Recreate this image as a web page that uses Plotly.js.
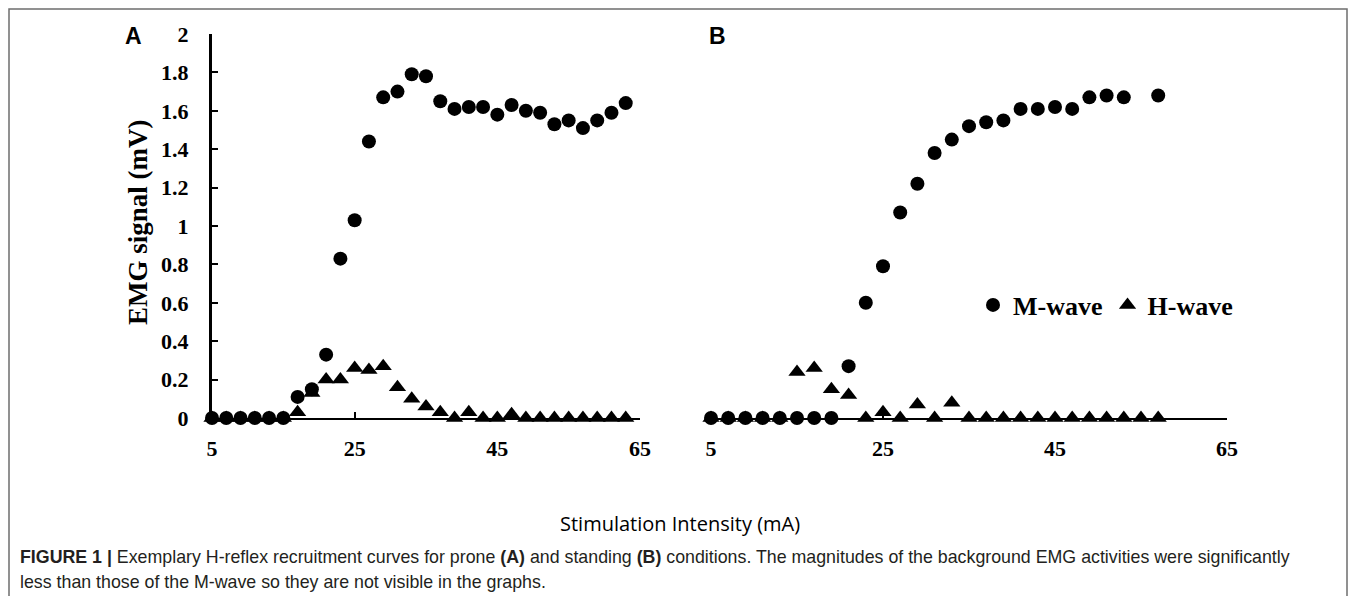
<!DOCTYPE html>
<html>
<head>
<meta charset="utf-8">
<script src="https://cdn.plot.ly/plotly-3.0.1.min.js"></script>
<style>html,body{margin:0;padding:0;background:#fff;}#chart{width:1355px;height:596px;}</style>
</head>
<body>
<div id="chart"></div>
<script>
// ---- Data ----
// Panel A (prone)
const xA = [5,7,9,11,13,15,17,19,21,23,25,27,29,31,33,35,37,39,41,43,45,47,49,51,53,55,57,59,61,63];
const mWaveA = [0,0,0,0,0,0,0.11,0.15,0.33,0.83,1.03,1.44,1.67,1.70,1.79,1.78,1.65,1.61,1.62,1.62,1.58,1.63,1.60,1.59,1.53,1.55,1.51,1.55,1.59,1.64];
const hWaveA = [0,0,0,0,0,0,0.03,0.13,0.20,0.20,0.26,0.25,0.27,0.16,0.10,0.06,0.03,0,0.03,0,0,0.02,0,0,0,0,0,0,0,0];
// Panel B (standing)
const xBM = [5,7,9,11,13,15,17,19,21,23,25,27,29,31,33,35,37,39,41,43,45,47,49,51,53,57];
const mWaveB = [0,0,0,0,0,0,0,0,0.27,0.60,0.79,1.07,1.22,1.38,1.45,1.52,1.54,1.55,1.61,1.61,1.62,1.61,1.67,1.68,1.67,1.68];
const xBH = [5,7,9,11,13,15,17,19,21,23,25,27,29,31,33,35,37,39,41,43,45,47,49,51,53,55,57];
const hWaveB = [0,0,0,0,0,0.24,0.26,0.15,0.12,0,0.03,0,0.07,0,0.08,0,0,0,0,0,0,0,0,0,0,0,0];
// Axis ticks
const xTicks = [5,25,45,65];
const yTicks = [0,0.2,0.4,0.6,0.8,1,1.2,1.4,1.6,1.8,2];
const yTickText = ['0','0.2','0.4','0.6','0.8','1','1.2','1.4','1.6','1.8','2'];

// ---- Layout helpers (pixel -> paper) ----
const W = 1355, H = 596;
const px = v => v / W;
const py = v => 1 - v / H;

const SERIF = '"Liberation Serif", "Times New Roman", serif';
const SANS = '"Liberation Sans", Arial, sans-serif';
const tickFont = {family: SERIF, size: 22, color: '#000', weight: 'bold'};
const mSize = 14, tSize = 15;

const traces = [
  {x: xA, y: hWaveA, xaxis: 'x', yaxis: 'y', type: 'scatter', mode: 'markers', name: 'H-wave',
   legendgroup: 'h', showlegend: false, cliponaxis: false,
   marker: {symbol: 'triangle-up', size: tSize, color: '#000'}},
  {x: xA, y: mWaveA, xaxis: 'x', yaxis: 'y', type: 'scatter', mode: 'markers', name: 'M-wave',
   legendgroup: 'm', showlegend: false, cliponaxis: false,
   marker: {symbol: 'circle', size: mSize, color: '#000'}},
  {x: xBH, y: hWaveB, xaxis: 'x2', yaxis: 'y2', type: 'scatter', mode: 'markers', name: 'H-wave',
   legendgroup: 'h', showlegend: true, legendrank: 2, cliponaxis: false,
   marker: {symbol: 'triangle-up', size: tSize, color: '#000'}},
  {x: xBM, y: mWaveB, xaxis: 'x2', yaxis: 'y2', type: 'scatter', mode: 'markers', name: 'M-wave',
   legendgroup: 'm', showlegend: true, legendrank: 1, cliponaxis: false,
   marker: {symbol: 'circle', size: mSize, color: '#000'}}
];

const xAxisCommon = {
  range: [5, 65], tickmode: 'array', tickvals: xTicks, ticktext: xTicks.map(String),
  showgrid: false, zeroline: false, showline: true, linecolor: '#000', linewidth: 2,
  ticks: 'inside', ticklen: 6, tickwidth: 2, tickcolor: '#000',
  tickfont: tickFont, ticklabelstandoff: 10, fixedrange: true
};
const yDomain = [py(418), py(34)];

const layout = {
  width: W, height: H,
  margin: {l: 0, r: 0, t: 0, b: 0},
  paper_bgcolor: '#fff', plot_bgcolor: 'rgba(0,0,0,0)',
  showlegend: true,
  legend: {
    orientation: 'h', x: px(973), xanchor: 'left', y: py(305), yanchor: 'middle',
    font: {family: SERIF, size: 26, color: '#000', weight: 'bold'},
    bgcolor: 'rgba(0,0,0,0)', itemwidth: 30, tracegroupgap: 0
  },
  xaxis: Object.assign({}, xAxisCommon, {domain: [px(212), px(640)], anchor: 'y'}),
  xaxis2: Object.assign({}, xAxisCommon, {domain: [px(711), px(1227)], anchor: 'y2'}),
  yaxis: {
    domain: yDomain, range: [0, 2], anchor: 'x', tickmode: 'array', tickvals: yTicks, ticktext: yTickText,
    showgrid: false, zeroline: false, showline: true, linecolor: '#000', linewidth: 3,
    ticks: 'inside', ticklen: 6, tickwidth: 2, tickcolor: '#000',
    tickfont: tickFont, ticklabelstandoff: 16, fixedrange: true
  },
  yaxis2: {
    domain: yDomain, range: [0, 2], anchor: 'x2', showgrid: false, zeroline: false,
    showline: false, showticklabels: false, ticks: '', fixedrange: true
  },
  shapes: [
    {type: 'rect', xref: 'paper', yref: 'paper', x0: px(9), x1: px(1347), y0: py(620), y1: py(9),
     line: {color: '#6e6e6e', width: 1.5}, fillcolor: 'rgba(0,0,0,0)', layer: 'below'}
  ],
  annotations: [
    {text: 'A', xref: 'paper', yref: 'paper', x: px(133), y: py(36), showarrow: false,
     xanchor: 'center', yanchor: 'middle',
     font: {family: SANS, size: 23, color: '#000', weight: 'bold'}},
    {text: 'B', xref: 'paper', yref: 'paper', x: px(717), y: py(36), showarrow: false,
     xanchor: 'center', yanchor: 'middle',
     font: {family: SANS, size: 23, color: '#000', weight: 'bold'}},
    {text: 'EMG signal (mV)', xref: 'paper', yref: 'paper', x: px(138), y: py(222), showarrow: false,
     textangle: -90, xanchor: 'center', yanchor: 'middle',
     font: {family: SERIF, size: 27, color: '#000', weight: 'bold'}},
    {text: 'Stimulation Intensity (mA)', xref: 'paper', yref: 'paper', x: px(680), y: py(523), showarrow: false,
     xanchor: 'center', yanchor: 'middle',
     font: {family: '"Open Sans", "Noto Sans", sans-serif', size: 20, color: '#000'}},
    {text: '<b>FIGURE 1 |</b> Exemplary H-reflex recruitment curves for prone <b>(A)</b> and standing <b>(B)</b> conditions. The magnitudes of the background EMG activities were significantly',
     xref: 'paper', yref: 'paper', x: px(18), y: py(557), showarrow: false,
     xanchor: 'left', yanchor: 'middle', align: 'left',
     font: {family: SANS, size: 17.8, color: '#231f20'}},
    {text: 'less than those of the M-wave so they are not visible in the graphs.',
     xref: 'paper', yref: 'paper', x: px(18), y: py(582), showarrow: false,
     xanchor: 'left', yanchor: 'middle', align: 'left',
     font: {family: SANS, size: 17.8, color: '#231f20'}}
  ]
};

Plotly.newPlot('chart', traces, layout, {displayModeBar: false, staticPlot: true});
</script>
</body>
</html>
